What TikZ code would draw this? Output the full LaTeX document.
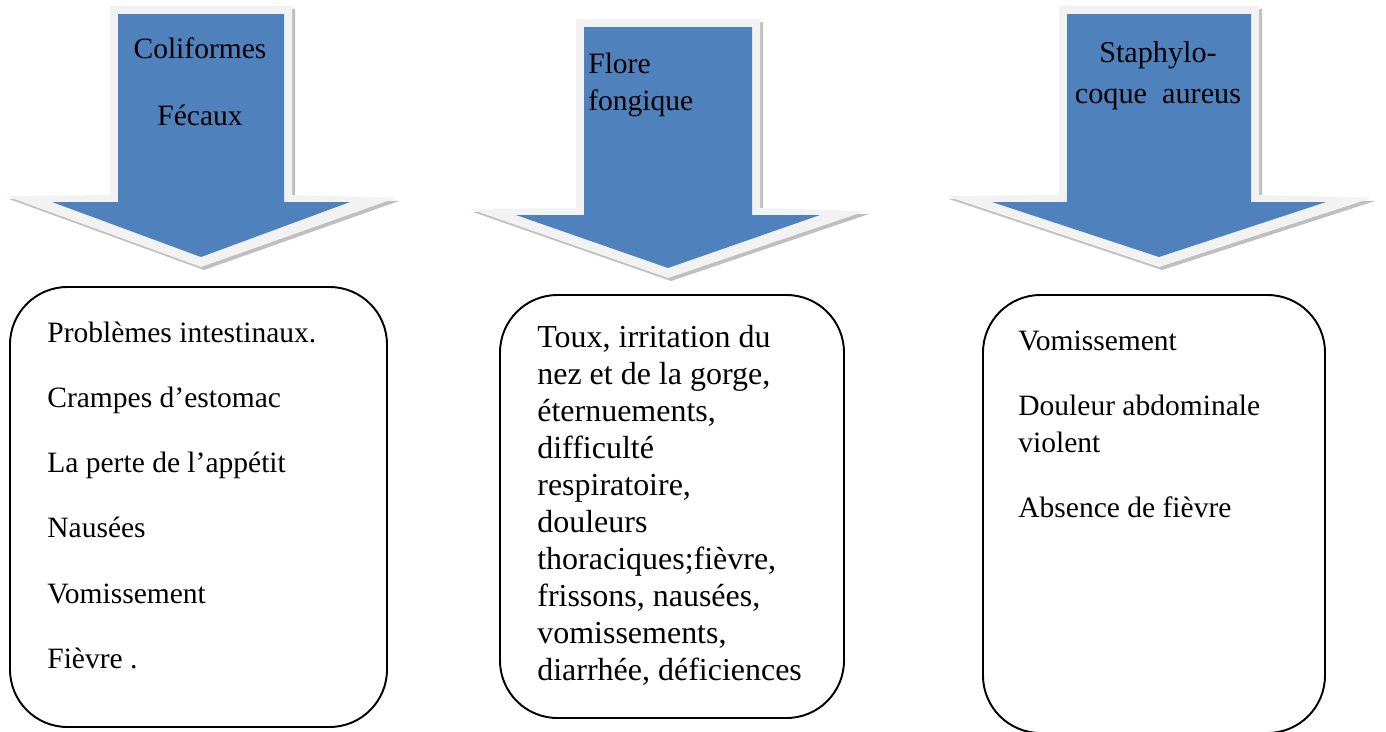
\documentclass[tikz,border=0pt]{standalone}
\usepackage{fontspec}
\setmainfont{Liberation Serif}
\definecolor{arrowblue}{RGB}{79,129,189}
\definecolor{framegray}{RGB}{242,242,242}

\begin{document}
\begin{tikzpicture}[x=0.02cm, y=-0.02cm,
  every node/.style={inner sep=0pt, font=\fontsize{16.8}{21}\selectfont},
  listtext/.style={align=left, anchor=base west},
  boxline/.style={draw, line width=1.1pt, rounded corners=1.15cm}]
  \useasboundingbox (0,0) rectangle (1386,731);
  % arrows: centre / top / shaft half width / shoulder / head half width / tip
  \foreach \c/\t/\w/\s/\h/\p in {201/14/83/202/149/257, 668/27/84/215/152/268,
                                  1159/14/92/202/167/257} {
    \fill[gray, opacity=0.5, shift={(3,3)}] (\c-\w-8,\t-8) -- (\c+\w+8,\t-8)
      -- (\c+\w+8,\s-7) -- (\c+\h+46,\s-4) -- (\c,\p+10) -- (\c-\h-46,\s-6)
      -- (\c-\w-8,\s-7) -- cycle;
    \fill[framegray] (\c-\w-8,\t-8) -- (\c+\w+8,\t-8)
      -- (\c+\w+8,\s-7) -- (\c+\h+46,\s-4) -- (\c,\p+10) -- (\c-\h-46,\s-6)
      -- (\c-\w-8,\s-7) -- cycle;
    \fill[arrowblue] (\c-\w,\t) -- (\c+\w,\t) -- (\c+\w,\s) -- (\c+\h,\s)
      -- (\c,\p) -- (\c-\h,\s) -- (\c-\w,\s) -- cycle;
  }
  % labels (base = last line)
  \node[align=center, anchor=base] (colif) at (200,125) {Coliformes\\[17pt]Fécaux};
  \node[listtext] (flore) at (588,110) {Flore\\fongique};
  \node[align=center, anchor=base, font=\fontsize{17.2}{21}\selectfont] (staph)
    at (1158,103) {Staphylo-\\[2pt]coque\ \ aureus};

  % symptom boxes
  \draw[boxline] (10,287) rectangle (387,727);
  \draw[boxline] (500,295) rectangle (844,718);
  \draw[boxline] (983,295) rectangle (1325,733);
  \node[listtext] (colifsym) at (47,668) {Problèmes intestinaux.\\[16pt]
    Crampes d’estomac\\[16pt]La perte de l’appétit\\[16pt]Nausées\\[16pt]
    Vomissement\\[16pt]Fièvre .};
  \node[listtext, font=\fontsize{18.2}{21}\selectfont] (floresym) at (537,680)
    {Toux, irritation du\\
    nez et de la gorge,\\éternuements,\\difficulté\\respiratoire,\\douleurs\\
    thoraciques;fièvre,\\frissons, nausées,\\vomissements,\\diarrhée, déficiences};
  \node[listtext] (staphsym) at (1018,517) {Vomissement\\[16pt]
    Douleur abdominale\\violent\\[16pt]Absence de fièvre};
\end{tikzpicture}
\end{document}
